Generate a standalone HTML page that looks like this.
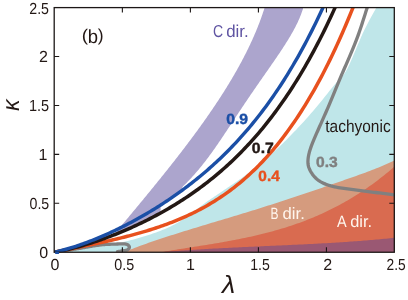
<!DOCTYPE html>
<html><head><meta charset="utf-8"><style>
html,body{margin:0;padding:0;background:#fff;}
svg{display:block;font-family:"Liberation Sans",sans-serif;will-change:transform;text-rendering:geometricPrecision;}

</style></head><body>
<svg width="408" height="300" viewBox="0 0 408 300">
<rect width="408" height="300" fill="#ffffff"/>
<clipPath id="cp"><rect x="54.50" y="7.90" width="340.00" height="244.30"/></clipPath>
<g clip-path="url(#cp)"><path d="M267.39 -2.00 L267.18 -1.20 L266.96 -0.41 L266.74 0.39 L266.52 1.18 L266.30 1.98 L266.07 2.78 L265.84 3.57 L265.60 4.37 L265.36 5.16 L265.12 5.96 L264.88 6.76 L264.63 7.55 L264.38 8.35 L264.13 9.14 L263.88 9.94 L263.62 10.74 L263.36 11.53 L263.09 12.33 L262.82 13.12 L262.55 13.92 L262.28 14.72 L262.01 15.51 L261.73 16.31 L261.45 17.10 L261.16 17.90 L260.87 18.70 L260.58 19.49 L260.29 20.29 L260.00 21.08 L259.70 21.88 L259.40 22.68 L259.09 23.47 L258.79 24.27 L258.48 25.06 L258.16 25.86 L257.85 26.66 L257.53 27.45 L257.21 28.25 L256.89 29.04 L256.56 29.84 L256.23 30.64 L255.90 31.43 L255.57 32.23 L255.23 33.02 L254.89 33.82 L254.55 34.62 L254.21 35.41 L253.86 36.21 L253.51 37.00 L253.16 37.80 L252.80 38.60 L252.45 39.39 L252.09 40.19 L251.72 40.98 L251.36 41.78 L250.99 42.58 L250.62 43.37 L250.25 44.17 L249.87 44.96 L249.50 45.76 L249.12 46.56 L248.74 47.35 L248.35 48.15 L247.96 48.94 L247.57 49.74 L247.18 50.54 L246.79 51.33 L246.39 52.13 L245.99 52.92 L245.59 53.72 L245.19 54.52 L244.78 55.31 L244.37 56.11 L243.96 56.90 L243.55 57.70 L243.13 58.49 L242.71 59.29 L242.29 60.09 L241.87 60.88 L241.45 61.68 L241.02 62.47 L240.59 63.27 L240.16 64.07 L239.73 64.86 L239.29 65.66 L238.85 66.45 L238.41 67.25 L237.97 68.05 L237.53 68.84 L237.08 69.64 L236.63 70.43 L236.18 71.23 L235.73 72.03 L235.27 72.82 L234.81 73.62 L234.35 74.41 L233.89 75.21 L233.43 76.01 L232.96 76.80 L232.50 77.60 L232.03 78.39 L231.56 79.19 L231.08 79.99 L230.61 80.78 L230.13 81.58 L229.65 82.37 L229.17 83.17 L228.68 83.97 L228.20 84.76 L227.71 85.56 L227.22 86.35 L226.73 87.15 L226.24 87.95 L225.74 88.74 L225.24 89.54 L224.74 90.33 L224.24 91.13 L223.74 91.93 L223.24 92.72 L222.73 93.52 L222.22 94.31 L221.71 95.11 L221.20 95.91 L220.69 96.70 L220.17 97.50 L219.65 98.29 L219.13 99.09 L218.61 99.89 L218.09 100.68 L217.57 101.48 L217.04 102.27 L216.51 103.07 L215.98 103.87 L215.45 104.66 L214.92 105.46 L214.39 106.25 L213.85 107.05 L213.31 107.85 L212.77 108.64 L212.23 109.44 L211.69 110.23 L211.14 111.03 L210.60 111.83 L210.05 112.62 L209.50 113.42 L208.95 114.21 L208.40 115.01 L207.85 115.81 L207.29 116.60 L206.73 117.40 L206.18 118.19 L205.62 118.99 L205.06 119.79 L204.49 120.58 L203.93 121.38 L203.36 122.17 L202.80 122.97 L202.23 123.77 L201.66 124.56 L201.09 125.36 L200.51 126.15 L199.94 126.95 L199.36 127.75 L198.79 128.54 L198.21 129.34 L197.63 130.13 L197.05 130.93 L196.47 131.73 L195.88 132.52 L195.30 133.32 L194.71 134.11 L194.13 134.91 L193.54 135.71 L192.95 136.50 L192.36 137.30 L191.76 138.09 L191.17 138.89 L190.57 139.69 L189.98 140.48 L189.38 141.28 L188.78 142.07 L188.18 142.87 L187.58 143.67 L186.98 144.46 L186.38 145.26 L185.77 146.05 L185.17 146.85 L184.56 147.65 L183.95 148.44 L183.35 149.24 L182.74 150.03 L182.12 150.83 L181.51 151.63 L180.90 152.42 L180.29 153.22 L179.67 154.01 L179.05 154.81 L178.44 155.61 L177.82 156.40 L177.20 157.20 L176.58 157.99 L175.96 158.79 L175.34 159.59 L174.71 160.38 L174.09 161.18 L173.47 161.97 L172.84 162.77 L172.21 163.57 L171.59 164.36 L170.96 165.16 L170.33 165.95 L169.70 166.75 L169.07 167.55 L168.44 168.34 L167.80 169.14 L167.17 169.93 L166.54 170.73 L165.90 171.53 L165.26 172.32 L164.63 173.12 L163.99 173.91 L163.35 174.71 L162.71 175.51 L162.07 176.30 L161.43 177.10 L160.79 177.89 L160.15 178.69 L159.51 179.48 L158.87 180.28 L158.22 181.08 L157.58 181.87 L156.93 182.67 L156.29 183.46 L155.64 184.26 L154.99 185.06 L154.35 185.85 L153.70 186.65 L153.05 187.44 L152.40 188.24 L151.75 189.04 L151.10 189.83 L150.45 190.63 L149.80 191.42 L149.14 192.22 L148.49 193.02 L147.84 193.81 L147.18 194.61 L146.53 195.40 L145.88 196.20 L145.22 197.00 L144.57 197.79 L143.91 198.59 L143.25 199.38 L142.60 200.18 L141.94 200.98 L141.28 201.77 L140.62 202.57 L139.97 203.36 L139.31 204.16 L138.65 204.96 L137.99 205.75 L137.33 206.55 L136.67 207.34 L136.01 208.14 L135.35 208.94 L134.69 209.73 L134.03 210.53 L133.37 211.32 L132.70 212.12 L132.04 212.92 L131.38 213.71 L130.72 214.51 L130.06 215.30 L129.39 216.10 L128.73 216.90 L128.07 217.69 L127.40 218.49 L126.74 219.28 L126.08 220.08 L125.41 220.88 L124.75 221.67 L124.09 222.47 L123.42 223.26 L122.76 224.06 L122.09 224.86 L121.43 225.65 L120.76 226.45 L120.10 227.24 L119.44 228.04 L118.77 228.84 L118.11 229.63 L117.44 230.43 L116.78 231.22 L116.11 232.02 L115.45 232.82 L114.78 233.61 L114.12 234.41 L115.14 234.41 L117.14 233.61 L119.11 232.82 L121.05 232.02 L122.96 231.22 L124.84 230.43 L126.70 229.63 L128.52 228.84 L130.33 228.04 L132.11 227.24 L133.87 226.45 L135.60 225.65 L137.31 224.86 L139.01 224.06 L140.68 223.26 L142.33 222.47 L143.96 221.67 L145.57 220.88 L147.17 220.08 L148.74 219.28 L150.30 218.49 L151.84 217.69 L153.37 216.90 L154.88 216.10 L156.37 215.30 L157.85 214.51 L159.31 213.71 L160.60 212.92 L160.61 212.12 L160.62 211.32 L160.62 210.53 L160.63 209.73 L160.64 208.94 L160.64 208.14 L160.65 207.34 L160.65 206.55 L160.66 205.75 L160.84 204.96 L161.97 204.16 L163.20 203.36 L164.42 202.57 L165.63 201.77 L166.83 200.98 L168.02 200.18 L169.20 199.38 L170.37 198.59 L171.54 197.79 L172.69 197.00 L173.84 196.20 L174.98 195.40 L176.11 194.61 L177.24 193.81 L178.35 193.02 L179.46 192.22 L180.56 191.42 L181.65 190.63 L182.74 189.83 L183.82 189.04 L184.89 188.24 L181.89 187.44 L182.72 186.65 L183.54 185.85 L184.35 185.06 L185.16 184.26 L185.95 183.46 L186.74 182.67 L187.52 181.87 L188.29 181.08 L189.05 180.28 L189.81 179.48 L190.56 178.69 L191.30 177.89 L192.03 177.10 L192.75 176.30 L193.47 175.51 L194.18 174.71 L194.89 173.91 L195.58 173.12 L196.27 172.32 L196.96 171.53 L197.64 170.73 L198.31 169.93 L198.98 169.14 L199.64 168.34 L200.29 167.55 L200.94 166.75 L201.59 165.95 L202.23 165.16 L202.86 164.36 L203.49 163.57 L204.12 162.77 L204.74 161.97 L205.35 161.18 L205.96 160.38 L206.57 159.59 L207.18 158.79 L207.77 157.99 L208.37 157.20 L208.96 156.40 L209.55 155.61 L210.14 154.81 L210.72 154.01 L211.29 153.22 L211.87 152.42 L212.44 151.63 L213.01 150.83 L213.58 150.03 L214.14 149.24 L214.70 148.44 L215.26 147.65 L215.82 146.85 L216.37 146.05 L216.92 145.26 L217.47 144.46 L218.02 143.67 L218.57 142.87 L219.11 142.07 L219.65 141.28 L220.19 140.48 L220.73 139.69 L221.27 138.89 L221.81 138.09 L222.34 137.30 L222.88 136.50 L223.41 135.71 L223.94 134.91 L224.47 134.11 L225.00 133.32 L225.53 132.52 L226.06 131.73 L226.59 130.93 L227.12 130.13 L227.64 129.34 L228.17 128.54 L228.69 127.75 L229.22 126.95 L229.75 126.15 L230.27 125.36 L230.80 124.56 L231.32 123.77 L231.84 122.97 L232.37 122.17 L232.89 121.38 L233.42 120.58 L233.94 119.79 L234.47 118.99 L234.99 118.19 L235.52 117.40 L236.04 116.60 L236.57 115.81 L237.10 115.01 L237.62 114.21 L238.15 113.42 L238.68 112.62 L239.21 111.83 L239.74 111.03 L240.27 110.23 L240.80 109.44 L241.33 108.64 L241.86 107.85 L242.39 107.05 L242.92 106.25 L243.46 105.46 L243.99 104.66 L244.52 103.87 L245.06 103.07 L245.60 102.27 L246.13 101.48 L246.67 100.68 L247.21 99.89 L247.75 99.09 L248.29 98.29 L248.83 97.50 L249.37 96.70 L249.91 95.91 L250.45 95.11 L251.00 94.31 L251.54 93.52 L252.09 92.72 L252.63 91.93 L253.18 91.13 L253.73 90.33 L254.28 89.54 L254.82 88.74 L255.37 87.95 L255.92 87.15 L256.47 86.35 L257.02 85.56 L257.58 84.76 L258.13 83.97 L258.68 83.17 L259.23 82.37 L259.79 81.58 L260.34 80.78 L260.90 79.99 L261.45 79.19 L262.01 78.39 L262.56 77.60 L263.12 76.80 L263.67 76.01 L264.23 75.21 L264.78 74.41 L265.34 73.62 L265.90 72.82 L266.45 72.03 L267.01 71.23 L267.56 70.43 L268.12 69.64 L268.67 68.84 L269.23 68.05 L269.78 67.25 L270.33 66.45 L270.89 65.66 L271.44 64.86 L271.99 64.07 L272.54 63.27 L273.09 62.47 L273.64 61.68 L274.19 60.88 L274.74 60.09 L275.28 59.29 L275.83 58.49 L276.37 57.70 L276.91 56.90 L277.46 56.11 L277.99 55.31 L278.53 54.52 L279.07 53.72 L279.60 52.92 L280.13 52.13 L280.66 51.33 L281.19 50.54 L281.72 49.74 L282.24 48.94 L282.76 48.15 L283.28 47.35 L283.80 46.56 L284.31 45.76 L284.82 44.96 L285.33 44.17 L285.83 43.37 L286.34 42.58 L286.83 41.78 L287.33 40.98 L287.82 40.19 L288.31 39.39 L288.79 38.60 L289.27 37.80 L289.75 37.00 L290.22 36.21 L290.69 35.41 L291.15 34.62 L291.61 33.82 L292.06 33.02 L292.51 32.23 L292.96 31.43 L293.40 30.64 L293.83 29.84 L294.26 29.04 L294.69 28.25 L295.10 27.45 L295.52 26.66 L295.92 25.86 L296.32 25.06 L296.72 24.27 L297.11 23.47 L297.49 22.68 L297.86 21.88 L298.23 21.08 L298.59 20.29 L298.95 19.49 L299.29 18.70 L299.63 17.90 L299.96 17.10 L300.29 16.31 L300.60 15.51 L300.91 14.72 L301.21 13.92 L301.50 13.12 L301.79 12.33 L302.06 11.53 L302.32 10.74 L302.58 9.94 L302.83 9.14 L303.06 8.35 L303.29 7.55 L303.51 6.76 L303.71 5.96 L303.91 5.16 L304.10 4.37 L304.27 3.57 L304.44 2.78 L304.59 1.98 L304.73 1.18 L304.86 0.39 L304.98 -0.41 L305.09 -1.20 L305.19 -2.00 Z" fill="#aca5cd"/>
<path d="M54.50 252.24 L56.17 252.05 L57.83 251.86 L59.50 251.68 L61.16 251.49 L62.83 251.30 L64.49 251.11 L66.16 250.92 L67.83 250.73 L69.49 250.54 L71.16 250.34 L72.82 250.15 L74.49 249.95 L76.16 249.75 L77.82 249.54 L79.49 249.33 L81.15 249.12 L82.82 248.91 L84.48 248.69 L86.15 248.47 L87.82 248.24 L89.48 248.01 L91.15 247.78 L92.81 247.54 L94.48 247.29 L96.15 247.04 L97.81 246.78 L99.48 246.52 L101.14 246.25 L102.81 245.98 L104.47 245.69 L106.14 245.41 L107.81 245.11 L109.47 244.81 L111.14 244.50 L112.80 244.18 L114.47 243.85 L116.14 243.52 L117.80 243.18 L119.47 242.83 L121.13 242.47 L122.80 242.10 L124.46 241.72 L126.13 241.33 L127.80 240.93 L129.46 240.52 L131.13 240.10 L132.79 239.67 L134.46 239.23 L136.13 238.78 L137.79 238.32 L139.46 237.84 L141.12 237.36 L142.79 236.86 L144.45 236.35 L146.12 235.83 L147.79 235.29 L149.45 234.74 L151.12 234.18 L152.78 233.61 L154.45 233.02 L156.12 232.41 L157.78 231.80 L159.45 231.17 L161.11 230.52 L162.78 229.86 L164.44 229.17 L166.11 228.47 L167.78 227.74 L169.44 226.98 L171.11 226.18 L172.77 225.36 L174.44 224.49 L176.11 223.58 L177.77 222.63 L179.44 221.63 L181.10 220.58 L182.77 219.48 L184.43 218.35 L186.10 217.17 L187.77 215.96 L189.43 214.73 L191.10 213.49 L192.76 212.22 L194.43 210.95 L196.10 209.68 L197.76 208.42 L199.43 207.16 L201.09 205.92 L202.76 204.70 L204.42 203.49 L206.09 202.30 L207.76 201.12 L209.42 199.96 L211.09 198.80 L212.75 197.65 L214.42 196.52 L216.09 195.39 L217.75 194.26 L219.42 193.14 L221.08 192.03 L222.75 190.91 L224.41 189.80 L226.08 188.69 L227.75 187.57 L229.41 186.45 L231.08 185.33 L232.74 184.20 L234.41 183.07 L236.08 181.93 L237.74 180.78 L239.41 179.61 L241.07 178.44 L242.74 177.25 L244.40 176.05 L246.07 174.84 L247.74 173.61 L249.40 172.36 L251.07 171.09 L252.73 169.80 L254.40 168.49 L256.07 167.16 L257.73 165.81 L259.40 164.45 L261.06 163.06 L262.73 161.66 L264.39 160.24 L266.06 158.80 L267.73 157.34 L269.39 155.86 L271.06 154.37 L272.72 152.85 L274.39 151.32 L276.06 149.78 L277.72 148.21 L279.39 146.63 L281.05 145.03 L282.72 143.41 L284.38 141.78 L286.05 140.13 L287.72 138.46 L289.38 136.77 L291.05 135.07 L292.71 133.36 L294.38 131.62 L296.05 129.88 L297.71 128.11 L299.38 126.33 L301.04 124.53 L302.71 122.72 L304.37 120.88 L306.04 119.03 L307.71 117.16 L309.37 115.27 L311.04 113.36 L312.70 111.43 L314.37 109.48 L316.04 107.51 L317.70 105.52 L319.37 103.50 L321.03 101.47 L322.70 99.41 L324.36 97.33 L326.03 95.26 L327.70 93.18 L329.36 91.11 L331.03 89.06 L332.69 87.04 L334.36 85.06 L336.03 83.11 L337.69 81.22 L339.36 79.39 L341.02 77.62 L342.69 75.78 L344.35 73.65 L346.02 71.03 L347.69 67.94 L349.35 64.50 L351.02 60.80 L352.68 56.97 L354.35 53.05 L356.02 49.08 L357.68 45.12 L359.35 41.19 L361.01 37.34 L362.68 33.60 L364.34 30.03 L366.01 26.65 L367.68 23.42 L369.34 20.32 L371.01 17.29 L372.67 14.32 L374.34 11.36 L376.01 8.36 L377.67 5.31 L379.34 2.15 L381.00 -1.14 L382.67 -4.61 L384.33 -8.30 L386.00 -12.23 L399.50 -30.00 L399.50 252.20 Z" fill="#bfe6e9"/>
<path d="M126.00 251.43 L128.26 250.50 L130.51 249.58 L132.77 248.68 L135.03 247.80 L137.28 246.94 L139.54 246.10 L141.79 245.26 L144.05 244.45 L146.31 243.64 L148.56 242.85 L150.82 242.07 L153.08 241.29 L155.33 240.53 L157.59 239.77 L159.84 239.02 L162.10 238.28 L164.36 237.54 L166.61 236.81 L168.87 236.08 L171.13 235.35 L173.38 234.64 L175.64 233.92 L177.89 233.21 L180.15 232.50 L182.41 231.80 L184.66 231.10 L186.92 230.40 L189.18 229.70 L191.43 229.01 L193.69 228.32 L195.95 227.64 L198.20 226.95 L200.46 226.27 L202.71 225.59 L204.97 224.91 L207.23 224.23 L209.48 223.55 L211.74 222.87 L214.00 222.20 L216.25 221.52 L218.51 220.85 L220.76 220.17 L223.02 219.50 L225.28 218.82 L227.53 218.14 L229.79 217.46 L232.05 216.78 L234.30 216.10 L236.56 215.42 L238.82 214.74 L241.07 214.05 L243.33 213.36 L245.58 212.67 L247.84 211.98 L250.10 211.28 L252.35 210.58 L254.61 209.88 L256.87 209.18 L259.12 208.47 L261.38 207.76 L263.63 207.04 L265.89 206.33 L268.15 205.61 L270.40 204.89 L272.66 204.16 L274.92 203.44 L277.17 202.71 L279.43 201.97 L281.68 201.24 L283.94 200.50 L286.20 199.76 L288.45 199.02 L290.71 198.28 L292.97 197.53 L295.22 196.78 L297.48 196.03 L299.74 195.28 L301.99 194.52 L304.25 193.77 L306.50 193.01 L308.76 192.25 L311.02 191.49 L313.27 190.72 L315.53 189.95 L317.79 189.19 L320.04 188.42 L322.30 187.65 L324.55 186.87 L326.81 186.10 L329.07 185.32 L331.32 184.54 L333.58 183.77 L335.84 182.99 L338.09 182.20 L340.35 181.42 L342.61 180.64 L344.86 179.85 L347.12 179.06 L349.37 178.28 L351.63 177.49 L353.89 176.69 L356.14 175.90 L358.40 175.09 L360.66 174.28 L362.91 173.47 L365.17 172.64 L367.42 171.80 L369.68 170.95 L371.94 170.08 L374.19 169.21 L376.45 168.31 L378.71 167.40 L380.96 166.47 L383.22 165.52 L385.47 164.55 L387.73 163.55 L389.99 162.54 L392.24 161.49 L394.50 160.43 L394.50 252.20 L126.00 252.20 Z" fill="#d59b7e"/>
<path d="M160.00 252.37 L162.02 252.03 L164.03 251.68 L166.05 251.34 L168.07 251.01 L170.08 250.68 L172.10 250.35 L174.12 250.02 L176.13 249.69 L178.15 249.37 L180.17 249.05 L182.18 248.73 L184.20 248.41 L186.22 248.09 L188.24 247.77 L190.25 247.46 L192.27 247.14 L194.29 246.82 L196.30 246.50 L198.32 246.18 L200.34 245.86 L202.35 245.54 L204.37 245.22 L206.39 244.89 L208.40 244.56 L210.42 244.23 L212.44 243.90 L214.45 243.56 L216.47 243.22 L218.49 242.88 L220.50 242.53 L222.52 242.18 L224.54 241.82 L226.55 241.46 L228.57 241.10 L230.59 240.72 L232.61 240.35 L234.62 239.96 L236.64 239.57 L238.66 239.18 L240.67 238.78 L242.69 238.37 L244.71 237.95 L246.72 237.52 L248.74 237.09 L250.76 236.65 L252.77 236.20 L254.79 235.74 L256.81 235.28 L258.82 234.80 L260.84 234.31 L262.86 233.82 L264.87 233.31 L266.89 232.80 L268.91 232.27 L270.92 231.73 L272.94 231.18 L274.96 230.62 L276.97 230.05 L278.99 229.46 L281.01 228.87 L283.03 228.26 L285.04 227.63 L287.06 227.00 L289.08 226.35 L291.09 225.68 L293.11 225.01 L295.13 224.32 L297.14 223.61 L299.16 222.89 L301.18 222.15 L303.19 221.40 L305.21 220.63 L307.23 219.85 L309.24 219.05 L311.26 218.23 L313.28 217.40 L315.29 216.55 L317.31 215.68 L319.33 214.80 L321.34 213.89 L323.36 212.97 L325.38 212.03 L327.39 211.07 L329.41 210.09 L331.43 209.09 L333.45 208.08 L335.46 207.04 L337.48 205.98 L339.50 204.90 L341.51 203.81 L343.53 202.69 L345.55 201.54 L347.56 200.38 L349.58 199.20 L351.60 197.99 L353.61 196.76 L355.63 195.51 L357.65 194.23 L359.66 192.93 L361.68 191.61 L363.70 190.27 L365.71 188.90 L367.73 187.50 L369.75 186.08 L371.76 184.64 L373.78 183.17 L375.80 181.67 L377.82 180.15 L379.83 178.61 L381.85 177.03 L383.87 175.43 L385.88 173.81 L387.90 172.15 L389.92 170.47 L391.93 168.76 L393.95 167.02 L395.97 165.26 L397.98 163.46 L400.00 161.64 L394.50 252.20 L160.00 252.20 Z" fill="#d96b50"/>
<path d="M164.00 252.00 L165.98 251.84 L167.97 251.67 L169.95 251.51 L171.93 251.35 L173.92 251.20 L175.90 251.05 L177.88 250.90 L179.87 250.75 L181.85 250.61 L183.83 250.47 L185.82 250.33 L187.80 250.19 L189.78 250.06 L191.76 249.92 L193.75 249.79 L195.73 249.67 L197.71 249.54 L199.70 249.42 L201.68 249.30 L203.66 249.18 L205.65 249.06 L207.63 248.94 L209.61 248.83 L211.60 248.72 L213.58 248.61 L215.56 248.50 L217.55 248.39 L219.53 248.29 L221.51 248.18 L223.50 248.08 L225.48 247.98 L227.46 247.88 L229.45 247.78 L231.43 247.68 L233.41 247.58 L235.39 247.48 L237.38 247.39 L239.36 247.29 L241.34 247.20 L243.33 247.11 L245.31 247.02 L247.29 246.93 L249.28 246.83 L251.26 246.74 L253.24 246.65 L255.23 246.57 L257.21 246.48 L259.19 246.39 L261.18 246.30 L263.16 246.21 L265.14 246.12 L267.13 246.04 L269.11 245.95 L271.09 245.86 L273.08 245.77 L275.06 245.68 L277.04 245.59 L279.03 245.51 L281.01 245.42 L282.99 245.33 L284.97 245.24 L286.96 245.15 L288.94 245.05 L290.92 244.96 L292.91 244.87 L294.89 244.78 L296.87 244.68 L298.86 244.59 L300.84 244.49 L302.82 244.40 L304.81 244.30 L306.79 244.20 L308.77 244.10 L310.76 244.00 L312.74 243.90 L314.72 243.79 L316.71 243.69 L318.69 243.58 L320.67 243.47 L322.66 243.36 L324.64 243.25 L326.62 243.14 L328.61 243.02 L330.59 242.90 L332.57 242.79 L334.55 242.66 L336.54 242.54 L338.52 242.42 L340.50 242.29 L342.49 242.16 L344.47 242.03 L346.45 241.90 L348.44 241.76 L350.42 241.62 L352.40 241.48 L354.39 241.34 L356.37 241.19 L358.35 241.05 L360.34 240.89 L362.32 240.74 L364.30 240.58 L366.29 240.43 L368.27 240.26 L370.25 240.10 L372.24 239.93 L374.22 239.76 L376.20 239.58 L378.18 239.41 L380.17 239.22 L382.15 239.04 L384.13 238.85 L386.12 238.66 L388.10 238.47 L390.08 238.27 L392.07 238.06 L394.05 237.86 L396.03 237.65 L398.02 237.44 L400.00 237.22 L394.50 252.20 L164.00 252.20 Z" fill="#9a5873"/>
<path d="M54.50 252.20 L55.10 252.11 L55.70 252.02 L56.30 251.94 L56.90 251.85 L57.50 251.76 L58.10 251.67 L58.70 251.59 L59.29 251.50 L59.89 251.41 L60.49 251.32 L61.09 251.23 L61.69 251.14 L62.29 251.06 L62.89 250.97 L63.49 250.88 L64.09 250.79 L64.69 250.70 L65.29 250.61 L65.88 250.52 L66.48 250.43 L67.08 250.34 L67.68 250.25 L68.28 250.16 L68.88 250.06 L69.48 249.97 L70.08 249.88 L70.67 249.79 L71.27 249.69 L71.87 249.60 L72.47 249.51 L73.07 249.41 L73.67 249.32 L74.26 249.22 L74.86 249.13 L75.46 249.03 L76.06 248.94 L76.66 248.84 L77.25 248.74 L77.85 248.64 L78.45 248.54 L79.04 248.45 L79.64 248.35 L80.24 248.25 L80.84 248.15 L81.43 248.04 L82.03 247.94 L82.63 247.84 L83.22 247.74 L83.82 247.63 L84.42 247.53 L85.01 247.42 L85.61 247.32 L86.20 247.21 L86.80 247.10 L87.40 247.00 L87.99 246.89 L88.59 246.79 L89.19 246.68 L89.78 246.57 L90.38 246.47 L90.98 246.37 L91.57 246.26 L92.17 246.16 L92.77 246.06 L93.36 245.96 L93.96 245.87 L94.56 245.77 L95.16 245.68 L95.76 245.58 L96.36 245.49 L96.96 245.40 L97.56 245.32 L98.16 245.24 L98.76 245.15 L99.36 245.08 L99.96 245.00 L100.56 244.93 L101.16 244.86 L101.76 244.79 L102.37 244.73 L102.97 244.67 L103.57 244.62 L104.18 244.56 L104.78 244.52 L105.38 244.47 L105.99 244.43 L106.59 244.40 L107.19 244.36 L107.80 244.33 L108.40 244.31 L109.01 244.28 L109.61 244.26 L110.22 244.24 L110.82 244.22 L111.43 244.20 L112.04 244.18 L112.64 244.16 L113.25 244.14 L113.85 244.12 L114.46 244.10 L115.06 244.08 L115.67 244.06 L116.28 244.04 L116.88 244.02 L117.49 244.00 L118.09 243.98 L118.70 243.96 L119.31 243.95 L119.91 243.93 L120.52 243.92 L121.12 243.91 L121.73 243.90 L122.33 243.90 L122.94 243.90 L123.54 243.90 L124.14 243.91 L124.75 243.94 L125.34 244.01 L125.94 244.11 L126.53 244.28 L127.12 244.51 L127.70 244.82 L128.24 245.21 L128.72 245.67 L129.10 246.17 L129.34 246.71 L129.40 247.27 L129.27 247.84 L128.99 248.39 L128.60 248.91 L128.12 249.36 L127.59 249.74 L127.03 250.02 L126.46 250.23 L125.88 250.38 L125.28 250.49 L124.68 250.58 L124.08 250.66 L123.48 250.74 L122.88 250.82 L122.28 250.91 L121.68 251.00 L121.08 251.09 L120.48 251.18 L119.89 251.28 L119.29 251.38 L118.69 251.49 L118.10 251.59 L117.50 251.70" fill="none" stroke="#808080" stroke-width="3.30" stroke-linejoin="round" stroke-linecap="round"/>
<path d="M370.40 -2.00 L369.80 -0.21 L369.20 1.58 L368.61 3.37 L368.02 5.16 L367.43 6.95 L366.84 8.75 L366.26 10.55 L365.69 12.34 L365.11 14.14 L364.54 15.94 L363.97 17.74 L363.40 19.54 L362.82 21.34 L362.24 23.13 L361.66 24.93 L361.07 26.72 L360.47 28.51 L359.87 30.30 L359.25 32.08 L358.63 33.86 L358.00 35.64 L357.35 37.41 L356.69 39.18 L356.02 40.94 L355.33 42.70 L354.64 44.45 L353.93 46.20 L353.22 47.94 L352.50 49.69 L351.77 51.43 L351.03 53.17 L350.29 54.90 L349.55 56.64 L348.80 58.37 L348.04 60.10 L347.29 61.83 L346.53 63.56 L345.78 65.29 L345.02 67.02 L344.27 68.76 L343.51 70.49 L342.76 72.22 L342.02 73.96 L341.28 75.69 L340.54 77.43 L339.81 79.17 L339.08 80.91 L338.35 82.65 L337.63 84.40 L336.90 86.14 L336.18 87.88 L335.46 89.63 L334.74 91.37 L334.02 93.12 L333.30 94.86 L332.58 96.60 L331.86 98.35 L331.13 100.09 L330.40 101.83 L329.67 103.57 L328.94 105.31 L328.20 107.04 L327.46 108.78 L326.71 110.51 L325.96 112.24 L325.20 113.97 L324.44 115.69 L323.68 117.42 L322.91 119.14 L322.14 120.86 L321.37 122.59 L320.60 124.31 L319.83 126.03 L319.06 127.76 L318.30 129.48 L317.53 131.21 L316.77 132.93 L316.01 134.66 L315.26 136.40 L314.51 138.13 L313.78 139.87 L313.05 141.61 L312.35 143.37 L311.67 145.13 L311.03 146.90 L310.42 148.69 L309.85 150.49 L309.33 152.31 L308.88 154.14 L308.50 155.99 L308.21 157.86 L308.02 159.75 L307.94 161.65 L308.01 163.54 L308.27 165.41 L308.75 167.23 L309.43 168.99 L310.26 170.70 L311.21 172.35 L312.24 173.95 L313.35 175.48 L314.57 176.92 L315.88 178.27 L317.31 179.51 L318.83 180.64 L320.42 181.67 L322.08 182.58 L323.78 183.39 L325.53 184.12 L327.30 184.77 L329.10 185.35 L330.91 185.88 L332.74 186.37 L334.58 186.80 L336.42 187.20 L338.28 187.55 L340.14 187.87 L342.00 188.17 L343.87 188.44 L345.74 188.70 L347.61 188.95 L349.48 189.19 L351.35 189.44 L353.22 189.68 L355.09 189.92 L356.97 190.16 L358.84 190.40 L360.71 190.64 L362.58 190.87 L364.45 191.11 L366.33 191.34 L368.20 191.57 L370.07 191.81 L371.94 192.04 L373.82 192.27 L375.69 192.51 L377.56 192.75 L379.43 192.98 L381.31 193.22 L383.18 193.46 L385.05 193.71 L386.92 193.96 L388.79 194.21 L390.66 194.46 L392.53 194.72 L394.40 194.99 L396.27 195.25 L398.13 195.53 L400.00 195.80" fill="none" stroke="#808080" stroke-width="3.30" stroke-linejoin="round" stroke-linecap="round"/>
<path d="M54.50 252.20 L56.28 251.84 L58.05 251.48 L59.83 251.12 L61.61 250.76 L63.38 250.40 L65.16 250.04 L66.94 249.68 L68.72 249.32 L70.49 248.96 L72.27 248.60 L74.05 248.23 L75.82 247.87 L77.60 247.51 L79.38 247.14 L81.15 246.77 L82.93 246.40 L84.71 246.03 L86.48 245.66 L88.26 245.29 L90.04 244.91 L91.81 244.53 L93.59 244.16 L95.37 243.77 L97.15 243.39 L98.92 243.00 L100.70 242.61 L102.48 242.22 L104.25 241.82 L106.03 241.42 L107.81 241.02 L109.58 240.61 L111.36 240.20 L113.14 239.79 L114.91 239.37 L116.69 238.94 L118.47 238.51 L120.24 238.08 L122.02 237.64 L123.80 237.20 L125.58 236.75 L127.35 236.29 L129.13 235.83 L130.91 235.36 L132.68 234.89 L134.46 234.41 L136.24 233.92 L138.01 233.43 L139.79 232.93 L141.57 232.42 L143.34 231.90 L145.12 231.37 L146.90 230.84 L148.67 230.29 L150.45 229.74 L152.23 229.18 L154.01 228.61 L155.78 228.03 L157.56 227.43 L159.34 226.83 L161.11 226.22 L162.89 225.59 L164.67 224.96 L166.44 224.31 L168.22 223.65 L170.00 222.98 L171.77 222.30 L173.55 221.60 L175.33 220.89 L177.11 220.16 L178.88 219.43 L180.66 218.67 L182.44 217.90 L184.21 217.12 L185.99 216.32 L187.77 215.51 L189.54 214.68 L191.32 213.83 L193.10 212.97 L194.87 212.09 L196.65 211.19 L198.43 210.27 L200.20 209.34 L201.98 208.39 L203.76 207.41 L205.54 206.42 L207.31 205.41 L209.09 204.37 L210.87 203.32 L212.64 202.24 L214.42 201.15 L216.20 200.03 L217.97 198.89 L219.75 197.72 L221.53 196.53 L223.30 195.32 L225.08 194.09 L226.86 192.83 L228.63 191.54 L230.41 190.23 L232.19 188.89 L233.97 187.53 L235.74 186.13 L237.52 184.72 L239.30 183.27 L241.07 181.79 L242.85 180.29 L244.63 178.75 L246.40 177.19 L248.18 175.60 L249.96 173.97 L251.73 172.31 L253.51 170.63 L255.29 168.90 L257.06 167.15 L258.84 165.36 L260.62 163.54 L262.40 161.68 L264.17 159.79 L265.95 157.87 L267.73 155.90 L269.50 153.90 L271.28 151.87 L273.06 149.79 L274.83 147.68 L276.61 145.52 L278.39 143.33 L280.16 141.10 L281.94 138.83 L283.72 136.51 L285.49 134.16 L287.27 131.76 L289.05 129.32 L290.83 126.83 L292.60 124.30 L294.38 121.73 L296.16 119.11 L297.93 116.45 L299.71 113.74 L301.49 110.98 L303.26 108.17 L305.04 105.31 L306.82 102.41 L308.59 99.46 L310.37 96.45 L312.15 93.40 L313.93 90.29 L315.70 87.13 L317.48 83.92 L319.26 80.65 L321.03 77.33 L322.81 73.96 L324.59 70.52 L326.36 67.04 L328.14 63.49 L329.92 59.89 L331.69 56.23 L333.47 52.51 L335.25 48.73 L337.02 44.89 L338.80 40.99 L340.58 37.03 L342.36 33.01 L344.13 28.92 L345.91 24.77 L347.69 20.55 L349.46 16.27 L351.24 11.92 L353.02 7.50 L354.79 3.02 L356.57 -1.53 L358.35 -6.15 L360.12 -10.84 L361.90 -15.60 L363.68 -20.43 L365.45 -25.34 L367.23 -30.32 L369.01 -35.37 L370.79 -40.49 L372.56 -45.69 L374.34 -50.97 L376.12 -56.32 L377.89 -61.75 L379.67 -67.26 L381.45 -72.85 L383.22 -78.52 L385.00 -84.27 L386.78 -90.10 L388.55 -96.01 L390.33 -102.01 L392.11 -108.09 L393.88 -114.25 L395.66 -120.51 L397.44 -126.84 L399.22 -133.27 L400.99 -139.78 L402.77 -146.38 L404.55 -153.08 L406.32 -159.86 L408.10 -166.73" fill="none" stroke="#e8511e" stroke-width="3.50" stroke-linejoin="round" stroke-linecap="round"/>
<path d="M54.50 252.20 L56.28 251.87 L58.05 251.53 L59.83 251.17 L61.61 250.80 L63.38 250.42 L65.16 250.03 L66.94 249.62 L68.72 249.20 L70.49 248.77 L72.27 248.33 L74.05 247.88 L75.82 247.42 L77.60 246.94 L79.38 246.45 L81.15 245.96 L82.93 245.45 L84.71 244.93 L86.48 244.40 L88.26 243.86 L90.04 243.31 L91.81 242.74 L93.59 242.17 L95.37 241.59 L97.15 240.99 L98.92 240.39 L100.70 239.78 L102.48 239.15 L104.25 238.52 L106.03 237.87 L107.81 237.22 L109.58 236.55 L111.36 235.88 L113.14 235.19 L114.91 234.50 L116.69 233.79 L118.47 233.08 L120.24 232.35 L122.02 231.62 L123.80 230.87 L125.58 230.11 L127.35 229.35 L129.13 228.57 L130.91 227.78 L132.68 226.99 L134.46 226.18 L136.24 225.36 L138.01 224.53 L139.79 223.69 L141.57 222.84 L143.34 221.97 L145.12 221.10 L146.90 220.22 L148.67 219.32 L150.45 218.41 L152.23 217.49 L154.01 216.56 L155.78 215.62 L157.56 214.66 L159.34 213.70 L161.11 212.72 L162.89 211.73 L164.67 210.72 L166.44 209.71 L168.22 208.68 L170.00 207.63 L171.77 206.58 L173.55 205.51 L175.33 204.42 L177.11 203.32 L178.88 202.21 L180.66 201.09 L182.44 199.94 L184.21 198.79 L185.99 197.62 L187.77 196.43 L189.54 195.23 L191.32 194.01 L193.10 192.78 L194.87 191.53 L196.65 190.26 L198.43 188.97 L200.20 187.67 L201.98 186.35 L203.76 185.01 L205.54 183.66 L207.31 182.29 L209.09 180.89 L210.87 179.48 L212.64 178.05 L214.42 176.60 L216.20 175.13 L217.97 173.63 L219.75 172.12 L221.53 170.59 L223.30 169.03 L225.08 167.46 L226.86 165.86 L228.63 164.23 L230.41 162.59 L232.19 160.92 L233.97 159.22 L235.74 157.51 L237.52 155.76 L239.30 154.00 L241.07 152.20 L242.85 150.39 L244.63 148.54 L246.40 146.67 L248.18 144.77 L249.96 142.84 L251.73 140.89 L253.51 138.90 L255.29 136.89 L257.06 134.84 L258.84 132.77 L260.62 130.67 L262.40 128.53 L264.17 126.36 L265.95 124.16 L267.73 121.93 L269.50 119.67 L271.28 117.37 L273.06 115.04 L274.83 112.67 L276.61 110.27 L278.39 107.83 L280.16 105.35 L281.94 102.84 L283.72 100.29 L285.49 97.70 L287.27 95.07 L289.05 92.41 L290.83 89.70 L292.60 86.95 L294.38 84.16 L296.16 81.33 L297.93 78.46 L299.71 75.55 L301.49 72.59 L303.26 69.59 L305.04 66.54 L306.82 63.44 L308.59 60.30 L310.37 57.12 L312.15 53.88 L313.93 50.60 L315.70 47.27 L317.48 43.89 L319.26 40.46 L321.03 36.98 L322.81 33.45 L324.59 29.86 L326.36 26.22 L328.14 22.53 L329.92 18.78 L331.69 14.98 L333.47 11.12 L335.25 7.21 L337.02 3.24 L338.80 -0.79 L340.58 -4.88 L342.36 -9.03 L344.13 -13.24 L345.91 -17.51 L347.69 -21.85 L349.46 -26.24 L351.24 -30.70 L353.02 -35.22 L354.79 -39.81 L356.57 -44.47 L358.35 -49.19 L360.12 -53.98 L361.90 -58.84 L363.68 -63.76 L365.45 -68.76 L367.23 -73.83 L369.01 -78.97 L370.79 -84.18 L372.56 -89.47 L374.34 -94.83 L376.12 -100.27 L377.89 -105.78 L379.67 -111.37 L381.45 -117.04 L383.22 -122.79 L385.00 -128.61 L386.78 -134.52 L388.55 -140.51 L390.33 -146.58 L392.11 -152.74 L393.88 -158.98 L395.66 -165.30 L397.44 -171.72 L399.22 -178.22 L400.99 -184.80 L402.77 -191.48 L404.55 -198.25 L406.32 -205.11 L408.10 -212.06" fill="none" stroke="#231815" stroke-width="3.50" stroke-linejoin="round" stroke-linecap="round"/>
<path d="M54.50 252.20 L56.28 251.79 L58.05 251.37 L59.83 250.93 L61.61 250.47 L63.38 250.00 L65.16 249.51 L66.94 249.01 L68.72 248.49 L70.49 247.96 L72.27 247.42 L74.05 246.86 L75.82 246.28 L77.60 245.69 L79.38 245.09 L81.15 244.48 L82.93 243.85 L84.71 243.21 L86.48 242.56 L88.26 241.89 L90.04 241.21 L91.81 240.52 L93.59 239.82 L95.37 239.10 L97.15 238.38 L98.92 237.64 L100.70 236.89 L102.48 236.13 L104.25 235.35 L106.03 234.57 L107.81 233.77 L109.58 232.96 L111.36 232.15 L113.14 231.32 L114.91 230.47 L116.69 229.62 L118.47 228.76 L120.24 227.89 L122.02 227.00 L123.80 226.11 L125.58 225.20 L127.35 224.28 L129.13 223.35 L130.91 222.41 L132.68 221.46 L134.46 220.50 L136.24 219.53 L138.01 218.55 L139.79 217.55 L141.57 216.55 L143.34 215.53 L145.12 214.50 L146.90 213.46 L148.67 212.41 L150.45 211.34 L152.23 210.27 L154.01 209.18 L155.78 208.08 L157.56 206.97 L159.34 205.85 L161.11 204.71 L162.89 203.57 L164.67 202.40 L166.44 201.23 L168.22 200.04 L170.00 198.84 L171.77 197.63 L173.55 196.40 L175.33 195.16 L177.11 193.91 L178.88 192.64 L180.66 191.35 L182.44 190.06 L184.21 188.74 L185.99 187.41 L187.77 186.07 L189.54 184.71 L191.32 183.33 L193.10 181.94 L194.87 180.53 L196.65 179.11 L198.43 177.67 L200.20 176.21 L201.98 174.73 L203.76 173.23 L205.54 171.72 L207.31 170.19 L209.09 168.63 L210.87 167.06 L212.64 165.47 L214.42 163.86 L216.20 162.23 L217.97 160.57 L219.75 158.90 L221.53 157.20 L223.30 155.48 L225.08 153.74 L226.86 151.98 L228.63 150.19 L230.41 148.38 L232.19 146.54 L233.97 144.68 L235.74 142.80 L237.52 140.88 L239.30 138.95 L241.07 136.98 L242.85 134.99 L244.63 132.97 L246.40 130.93 L248.18 128.85 L249.96 126.74 L251.73 124.61 L253.51 122.45 L255.29 120.25 L257.06 118.02 L258.84 115.76 L260.62 113.47 L262.40 111.15 L264.17 108.79 L265.95 106.40 L267.73 103.97 L269.50 101.51 L271.28 99.01 L273.06 96.48 L274.83 93.91 L276.61 91.30 L278.39 88.65 L280.16 85.96 L281.94 83.24 L283.72 80.47 L285.49 77.66 L287.27 74.81 L289.05 71.92 L290.83 68.98 L292.60 66.00 L294.38 62.98 L296.16 59.91 L297.93 56.79 L299.71 53.63 L301.49 50.42 L303.26 47.16 L305.04 43.86 L306.82 40.50 L308.59 37.09 L310.37 33.64 L312.15 30.13 L313.93 26.56 L315.70 22.95 L317.48 19.28 L319.26 15.55 L321.03 11.77 L322.81 7.93 L324.59 4.03 L326.36 0.08 L328.14 -3.94 L329.92 -8.01 L331.69 -12.15 L333.47 -16.35 L335.25 -20.61 L337.02 -24.93 L338.80 -29.32 L340.58 -33.78 L342.36 -38.30 L344.13 -42.88 L345.91 -47.54 L347.69 -52.27 L349.46 -57.06 L351.24 -61.93 L353.02 -66.87 L354.79 -71.88 L356.57 -76.97 L358.35 -82.13 L360.12 -87.37 L361.90 -92.68 L363.68 -98.07 L365.45 -103.54 L367.23 -109.09 L369.01 -114.72 L370.79 -120.44 L372.56 -126.23 L374.34 -132.11 L376.12 -138.08 L377.89 -144.13 L379.67 -150.27 L381.45 -156.50 L383.22 -162.81 L385.00 -169.22 L386.78 -175.72 L388.55 -182.31 L390.33 -188.99 L392.11 -195.77 L393.88 -202.65 L395.66 -209.62 L397.44 -216.69 L399.22 -223.87 L400.99 -231.14 L402.77 -238.51 L404.55 -245.99 L406.32 -253.57 L408.10 -261.25" fill="none" stroke="#1b4fa6" stroke-width="3.40" stroke-linejoin="round" stroke-linecap="round"/></g>
<rect x="54.20" y="7.60" width="340.10" height="244.65" fill="none" stroke="#1c1716" stroke-width="1.3"/>
<path d="M122.37 252.25 V247.25 M122.37 7.60 V12.60" stroke="#1c1716" stroke-width="1.1"/>
<path d="M54.20 203.32 H59.20 M394.30 203.32 H389.30" stroke="#1c1716" stroke-width="1.1"/>
<path d="M190.39 252.25 V247.25 M190.39 7.60 V12.60" stroke="#1c1716" stroke-width="1.1"/>
<path d="M54.20 154.39 H59.20 M394.30 154.39 H389.30" stroke="#1c1716" stroke-width="1.1"/>
<path d="M258.41 252.25 V247.25 M258.41 7.60 V12.60" stroke="#1c1716" stroke-width="1.1"/>
<path d="M54.20 105.46 H59.20 M394.30 105.46 H389.30" stroke="#1c1716" stroke-width="1.1"/>
<path d="M326.43 252.25 V247.25 M326.43 7.60 V12.60" stroke="#1c1716" stroke-width="1.1"/>
<path d="M54.20 56.53 H59.20 M394.30 56.53 H389.30" stroke="#1c1716" stroke-width="1.1"/>
<ellipse cx="57.1" cy="252.9" rx="2.2" ry="1.2" fill="#1b4fa6"/>
<text x="39.37" y="258.00" font-size="16.00" fill="#231815" font-weight="normal" font-style="normal">0</text>
<text x="29.54" y="209.00" font-size="16.00" fill="#231815" font-weight="normal" font-style="normal" textLength="19.68" lengthAdjust="spacingAndGlyphs">0.5</text>
<text x="38.39" y="160.00" font-size="16.00" fill="#231815" font-weight="normal" font-style="normal">1</text>
<text x="28.98" y="111.00" font-size="16.00" fill="#231815" font-weight="normal" font-style="normal" textLength="20.16" lengthAdjust="spacingAndGlyphs">1.5</text>
<text x="39.07" y="62.00" font-size="16.00" fill="#231815" font-weight="normal" font-style="normal">2</text>
<text x="29.28" y="14.00" font-size="16.00" fill="#231815" font-weight="normal" font-style="normal" textLength="19.74" lengthAdjust="spacingAndGlyphs">2.5</text>
<text x="50.52" y="270.00" font-size="16.00" fill="#231815" font-weight="normal" font-style="normal">0</text>
<text x="114.21" y="270.00" font-size="16.00" fill="#231815" font-weight="normal" font-style="normal" textLength="19.95" lengthAdjust="spacingAndGlyphs">0.5</text>
<text x="186.11" y="270.00" font-size="16.00" fill="#231815" font-weight="normal" font-style="normal">1</text>
<text x="250.17" y="270.00" font-size="16.00" fill="#231815" font-weight="normal" font-style="normal" textLength="19.59" lengthAdjust="spacingAndGlyphs">1.5</text>
<text x="323.28" y="270.00" font-size="16.00" fill="#231815" font-weight="normal" font-style="normal">2</text>
<text x="386.58" y="270.00" font-size="16.00" fill="#231815" font-weight="normal" font-style="normal" textLength="19.15" lengthAdjust="spacingAndGlyphs">2.5</text>
<text x="222.01" y="293.11" font-size="24.89" fill="#231815" font-weight="normal" font-style="italic" textLength="13.23" lengthAdjust="spacingAndGlyphs">λ</text>
<text x="325.34" y="131.50" font-size="17.24" fill="#231815" font-weight="normal" font-style="normal" textLength="65.28" lengthAdjust="spacingAndGlyphs">tachyonic</text>
<text x="226.26" y="124.30" font-size="14.80" fill="#1b4fa6" font-weight="bold" font-style="normal" textLength="21.83" lengthAdjust="spacingAndGlyphs" stroke="#1b4fa6" stroke-width="0.4">0.9</text>
<text x="251.88" y="153.30" font-size="14.80" fill="#231815" font-weight="bold" font-style="normal" textLength="21.97" lengthAdjust="spacingAndGlyphs" stroke="#231815" stroke-width="0.4">0.7</text>
<text x="258.34" y="181.30" font-size="14.80" fill="#e8511e" font-weight="bold" font-style="normal" textLength="21.42" lengthAdjust="spacingAndGlyphs" stroke="#e8511e" stroke-width="0.4">0.4</text>
<text x="316.05" y="166.80" font-size="14.80" fill="#808080" font-weight="bold" font-style="normal" textLength="21.74" lengthAdjust="spacingAndGlyphs" stroke="#808080" stroke-width="0.4">0.3</text>
<text fill="#231815"><tspan x="81.82" y="41.30" font-size="16.94" textLength="6.30" lengthAdjust="spacingAndGlyphs">(</tspan><tspan x="87.76" y="43.00" font-size="19.08" textLength="10.29" lengthAdjust="spacingAndGlyphs">b</tspan><tspan x="97.69" y="41.30" font-size="17.11" textLength="5.84" lengthAdjust="spacingAndGlyphs">)</tspan></text>
<text fill="#5f54a2"><tspan x="212.95" y="37.20" font-size="17.30" textLength="10.16" lengthAdjust="spacingAndGlyphs">C</tspan> <tspan x="226.15" y="37.20" font-size="17.30" textLength="22.51" lengthAdjust="spacingAndGlyphs">dir.</tspan></text>
<text fill="#fff6ee"><tspan x="270.51" y="219.00" font-size="16.50" textLength="8.01" lengthAdjust="spacingAndGlyphs">B</tspan> <tspan x="282.55" y="219.00" font-size="16.50" textLength="22.23" lengthAdjust="spacingAndGlyphs">dir.</tspan></text>
<text fill="#fff6ee"><tspan x="337.04" y="227.40" font-size="16.50" textLength="9.66" lengthAdjust="spacingAndGlyphs">A</tspan> <tspan x="350.13" y="227.40" font-size="16.50" textLength="21.88" lengthAdjust="spacingAndGlyphs">dir.</tspan></text>
<text transform="translate(19.4,111.1) rotate(-90)" font-size="24.2" font-style="italic" fill="#231815" textLength="11.6" lengthAdjust="spacingAndGlyphs">κ</text>
</svg>
</body></html>
